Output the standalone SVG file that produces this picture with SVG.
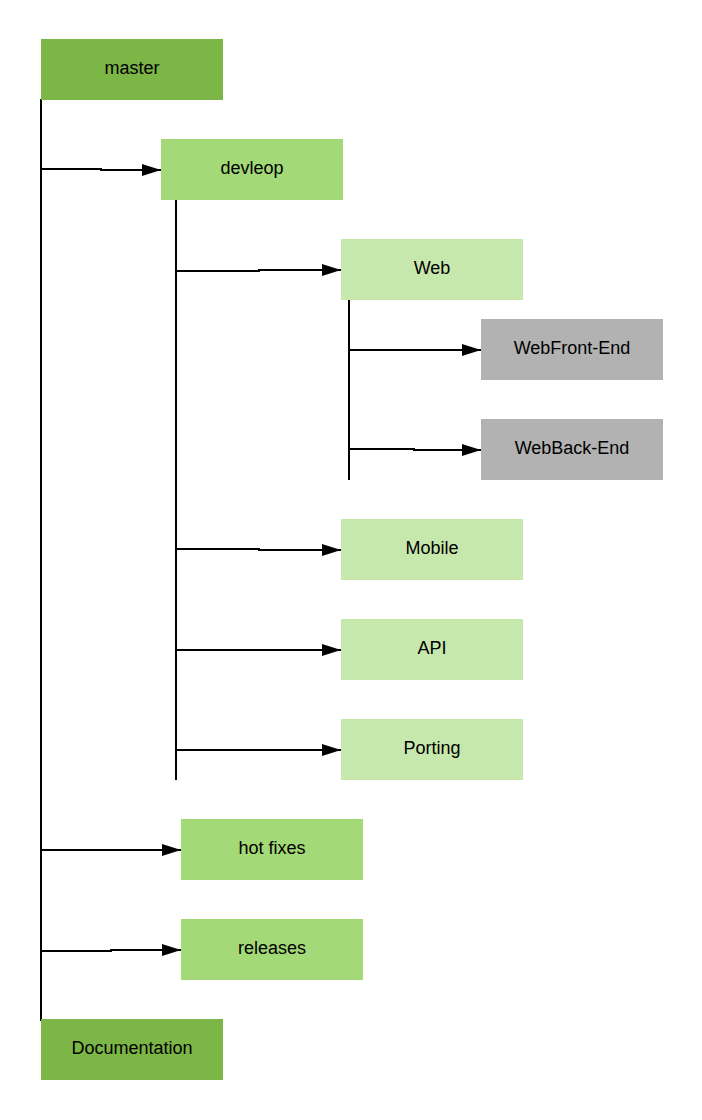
<svg xmlns="http://www.w3.org/2000/svg" width="702" height="1120" viewBox="0 0 702 1120">
<style>
.n1{fill:#7cb647}
.n2{fill:#a3d977}
.n3{fill:#c7e8ad}
.n4{fill:#b2b2b2}
text{font-family:"Liberation Sans",Arial,sans-serif;font-size:18px;fill:#000;text-anchor:middle;dominant-baseline:central}
.c{fill:none;stroke:#000;stroke-width:2}
</style>
<defs>
<marker id="ah" markerUnits="userSpaceOnUse" markerWidth="20" markerHeight="14" refX="19" refY="6" orient="auto">
<path d="M0,0 L19,6 L0,12 Z" fill="#000"/>
</marker>
</defs>
<rect width="702" height="1120" fill="#fff"/>
<g id="connectors">
<path class="c" d="M41,99 V1021"/>
<path class="c" d="M176,200 V780"/>
<path class="c" d="M349,300 V480"/>
<path class="c" d="M41,169 H101 V170 H161" marker-end="url(#ah)"/>
<path class="c" d="M176,271 H259 V270 H341" marker-end="url(#ah)"/>
<path class="c" d="M349,350 H481" marker-end="url(#ah)"/>
<path class="c" d="M349,449 H414 V450 H481" marker-end="url(#ah)"/>
<path class="c" d="M176,549 H259 V550 H341" marker-end="url(#ah)"/>
<path class="c" d="M176,650 H341" marker-end="url(#ah)"/>
<path class="c" d="M176,750 H341" marker-end="url(#ah)"/>
<path class="c" d="M41,850 H181" marker-end="url(#ah)"/>
<path class="c" d="M41,951 H111 V950 H181" marker-end="url(#ah)"/>
</g>
<g id="master"><rect class="n1" x="41" y="39" width="182" height="61"/><text x="132" y="68">master</text></g>
<g id="devleop"><rect class="n2" x="161" y="139" width="182" height="61"/><text x="252" y="168">devleop</text></g>
<g id="web"><rect class="n3" x="341" y="239" width="182" height="61"/><text x="432" y="268">Web</text></g>
<g id="webfront"><rect class="n4" x="481" y="319" width="182" height="61"/><text x="572" y="348">WebFront-End</text></g>
<g id="webback"><rect class="n4" x="481" y="419" width="182" height="61"/><text x="572" y="448">WebBack-End</text></g>
<g id="mobile"><rect class="n3" x="341" y="519" width="182" height="61"/><text x="432" y="548">Mobile</text></g>
<g id="api"><rect class="n3" x="341" y="619" width="182" height="61"/><text x="432" y="648">API</text></g>
<g id="porting"><rect class="n3" x="341" y="719" width="182" height="61"/><text x="432" y="748">Porting</text></g>
<g id="hotfixes"><rect class="n2" x="181" y="819" width="182" height="61"/><text x="272" y="848">hot fixes</text></g>
<g id="releases"><rect class="n2" x="181" y="919" width="182" height="61"/><text x="272" y="948">releases</text></g>
<g id="documentation"><rect class="n1" x="41" y="1019" width="182" height="61"/><text x="132" y="1048">Documentation</text></g>
</svg>
